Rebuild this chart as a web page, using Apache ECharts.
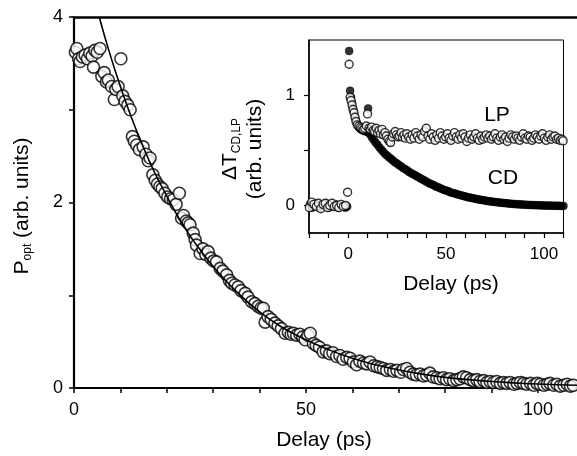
<!DOCTYPE html>
<html><head><meta charset="utf-8">
<script src="https://cdn.jsdelivr.net/npm/echarts@6/dist/echarts.min.js"></script>
<style>html,body{margin:0;padding:0;background:#fff}#c{width:577px;height:456px}</style>
</head><body><div id="c"></div>
<script>
// ---- main panel data (P_opt vs delay) ----
const mainX = [0.3,0.6,1.0,1.3,1.8,2.4,2.9,3.4,3.9,4.2,4.5,5.0,5.6,6.0,6.5,7.0,7.4,8.1,8.7,9.0,9.5,10.1,10.5,11.0,11.6,12.1,12.6,13.0,13.5,14.1,14.9,15.5,16.0,16.4,17.0,17.5,18.0,18.5,19.0,19.6,20.2,20.8,21.4,22.0,22.7,23.2,23.6,24.2,24.6,25.0,25.7,26.1,26.4,27.2,27.8,28.4,28.9,29.5,30.1,30.7,31.5,32.1,32.9,33.5,34.0,34.7,35.4,36.0,36.9,37.5,38.3,39.0,39.7,40.3,40.8,41.2,41.8,42.5,43.3,44.0,44.7,45.5,46.2,46.8,47.3,48.0,48.7,49.3,49.8,50.4,50.9,51.6,52.2,52.9,53.7,54.4,55.1,55.8,56.6,57.3,58.0,58.8,59.5,60.2,60.9,61.6,62.4,63.1,63.8,64.6,65.3,66.0,66.7,67.4,68.2,68.9,69.6,70.4,71.0,71.7,72.4,73.1,73.8,74.6,75.3,76.0,76.7,77.4,78.2,78.9,79.6,80.3,81.0,81.8,82.5,83.2,83.9,84.6,85.4,86.1,86.8,87.5,88.3,89.0,89.7,90.4,91.1,91.9,92.6,93.3,94.0,94.8,95.5,96.2,96.9,97.6,98.4,99.1,99.8,100.5,101.3,102.0,102.6,103.4,104.1,104.8,105.6,106.3,107.0,107.6];
const mainY = [3.62,3.66,3.55,3.52,3.57,3.59,3.55,3.61,3.58,3.46,3.64,3.62,3.66,3.36,3.40,3.30,3.32,3.25,3.11,3.22,3.25,3.55,3.15,3.09,3.05,3.00,2.71,2.66,2.62,2.57,2.60,2.52,2.45,2.48,2.30,2.24,2.20,2.17,2.15,2.10,2.06,2.04,2.03,1.98,2.10,1.83,1.86,1.80,1.78,1.76,1.67,1.60,1.54,1.45,1.50,1.44,1.47,1.40,1.37,1.36,1.29,1.26,1.22,1.16,1.13,1.11,1.09,1.05,1.02,0.98,0.93,0.91,0.88,0.86,0.86,0.71,0.77,0.74,0.70,0.67,0.64,0.59,0.60,0.58,0.59,0.57,0.58,0.55,0.52,0.57,0.59,0.48,0.46,0.44,0.39,0.40,0.37,0.38,0.34,0.35,0.31,0.33,0.32,0.28,0.25,0.29,0.27,0.26,0.28,0.24,0.23,0.22,0.21,0.19,0.20,0.18,0.19,0.17,0.20,0.21,0.17,0.15,0.14,0.15,0.13,0.14,0.16,0.12,0.11,0.10,0.11,0.09,0.10,0.08,0.09,0.10,0.12,0.11,0.09,0.08,0.09,0.07,0.08,0.06,0.07,0.06,0.07,0.05,0.06,0.05,0.06,0.04,0.05,0.06,0.05,0.04,0.05,0.03,0.05,0.04,0.03,0.04,0.05,0.03,0.04,0.02,0.03,0.04,0.02,0.03];
const fitX = [5.45,7.5,10,12.5,15,17.5,20,22.5,25,27.5,30,35,40,45,50,55,60,65,70,75,80,85,90,95,100,108.4];
const fitY = [4.0,3.64,3.25,2.90,2.59,2.31,2.07,1.84,1.64,1.47,1.31,1.04,0.82,0.65,0.52,0.41,0.32,0.25,0.195,0.15,0.115,0.09,0.07,0.055,0.043,0.03];
const mainXTicks = [0,10,20,30,40,50,60,70,80,90,100];
const mainXLabels = [0,50,100];
const mainYTicks = [0,1,2,3,4];
const mainYLabels = [0,2,4];

// ---- inset data (ΔT vs delay) ----
const lpX = [-19.8,-18.6,-17.5,-16.3,-15.2,-14.0,-12.8,-11.7,-10.5,-9.4,-8.2,-7.1,-5.9,-4.8,-3.6,-2.5,-1.3,-0.3,0.5,1.0,1.5,2.0,2.5,3.0,3.5,4.0,4.7,5.5,6.3,7.0,7.8,8.5,9.3,9.9,10.6,11.3,12.0,12.8,13.5,14.3,15.0,15.8,16.5,17.3,18.0,18.8,19.5,20.3,21.0,21.7,22.5,23.2,24.0,24.7,25.5,26.2,27.0,27.7,28.5,29.2,30.0,30.9,31.8,32.7,33.6,34.5,35.4,36.3,37.2,38.1,39.0,39.9,40.8,41.7,42.6,43.5,44.4,45.3,46.2,47.1,48.0,48.9,49.8,50.7,51.6,52.5,53.4,54.3,55.2,56.1,57.0,57.9,58.8,59.7,60.6,61.5,62.4,63.3,64.2,65.1,66.0,66.9,67.8,68.7,69.6,70.5,71.4,72.3,73.2,74.1,75.0,75.9,76.8,77.7,78.6,79.5,80.4,81.3,82.2,83.1,84.0,84.9,85.8,86.7,87.6,88.5,89.4,90.3,91.2,92.1,93.0,93.9,94.8,95.7,96.6,97.5,98.4,99.3,100.2,101.1,102.0,102.9,103.8,104.7,105.6,106.5,107.4,108.3,109.2,109.8];
const lpY = [-0.02,0.03,0.01,-0.01,0.02,-0.03,0.01,0.02,-0.02,0.0,0.02,-0.01,0.0,-0.02,0.01,-0.01,0.0,0.12,1.28,0.98,0.95,0.91,0.87,0.84,0.80,0.76,0.73,0.72,0.71,0.70,0.69,0.70,0.72,0.83,0.70,0.69,0.71,0.68,0.67,0.70,0.66,0.68,0.65,0.69,0.64,0.66,0.63,0.60,0.58,0.57,0.62,0.65,0.67,0.64,0.62,0.63,0.66,0.62,0.64,0.61,0.65,0.62,0.60,0.64,0.61,0.66,0.63,0.60,0.64,0.62,0.67,0.70,0.63,0.60,0.65,0.62,0.59,0.64,0.61,0.66,0.63,0.60,0.62,0.65,0.61,0.59,0.63,0.66,0.62,0.60,0.64,0.61,0.65,0.62,0.58,0.61,0.64,0.60,0.62,0.65,0.61,0.59,0.63,0.60,0.62,0.64,0.61,0.63,0.60,0.62,0.65,0.61,0.59,0.62,0.64,0.60,0.62,0.58,0.61,0.64,0.62,0.60,0.63,0.61,0.59,0.62,0.65,0.61,0.60,0.63,0.62,0.59,0.61,0.64,0.62,0.60,0.63,0.65,0.61,0.59,0.62,0.64,0.60,0.62,0.63,0.60,0.61,0.59,0.60,0.585];
const cdX = [-19.5,-18.3,-17.1,-15.9,-14.7,-13.5,-12.3,-11.1,-9.9,-8.7,-7.5,-6.3,-5.1,-3.9,-2.7,-1.5,-0.5,0.5,1.0,1.5,2.0,2.5,3.0,3.5,4.0,4.5,5.0,5.5,6.0,6.5,7.0,7.5,8.0,8.5,9.0,9.5,10.2,10.7,11,12,13,14,15,16,17,18,19,20,21,22,23,24,25,26,27,28,29,30,31,32,33,34,35,36,37,38,39,40,41,42,43,44,45,46,47,48,49,50,51,52,53,54,55,56,57,58,59,60,61,62,63,64,65,66,67,68,69,70,71,72,73,74,75,76,77,78,79,80,81,82,83,84,85,86,87,88,89,90,91,92,93,94,95,96,97,98,99,100,101,102,103,104,105,106,107,108,109,110];
const cdY = [0.01,-0.02,0.02,0.0,-0.02,0.01,-0.01,0.02,-0.02,0.0,-0.01,0.01,-0.02,0.0,-0.01,-0.02,-0.01,1.40,1.04,0.98,0.93,0.88,0.84,0.80,0.77,0.74,0.72,0.71,0.70,0.69,0.69,0.68,0.68,0.68,0.67,0.67,0.88,0.66,0.65,0.62,0.595,0.57,0.55,0.525,0.505,0.485,0.465,0.45,0.435,0.42,0.405,0.39,0.38,0.365,0.355,0.34,0.33,0.32,0.305,0.295,0.285,0.275,0.265,0.255,0.245,0.235,0.225,0.215,0.205,0.195,0.19,0.18,0.17,0.165,0.155,0.15,0.14,0.135,0.13,0.12,0.115,0.11,0.105,0.10,0.095,0.09,0.085,0.08,0.075,0.072,0.068,0.064,0.06,0.056,0.053,0.05,0.047,0.044,0.041,0.038,0.036,0.033,0.031,0.029,0.027,0.025,0.023,0.021,0.019,0.017,0.016,0.014,0.013,0.011,0.010,0.009,0.008,0.007,0.006,0.005,0.004,0.003,0.003,0.002,0.001,0.001,0.0,0.0,-0.001,-0.002,0.0,-0.002,-0.003,-0.002,-0.004,-0.003,-0.005,-0.005];
const insetXTicks = [-20,-10,0,10,20,30,40,50,60,70,80,90,100,110];
const insetXLabels = [0,50,100];
const insetYTicks = [0,0.5,1];
const insetYLabels = [0,1];

const zip = (xs, ys) => xs.map((x, i) => [x, ys[i]]);
const FONT = "'Liberation Sans', Arial, Helvetica, sans-serif";

const chart = echarts.init(document.getElementById('c'), null, {renderer: 'canvas'});
const axisCommon = (w) => ({
  axisLine: {show: true, onZero: false, lineStyle: {color: '#000', width: w}},
  splitLine: {show: false},
});
chart.setOption({
  animation: false,
  backgroundColor: '#fff',
  grid: [
    {left: 74, top: 17, right: 0, bottom: 68},
    {left: 309, top: 40, right: 13.5, bottom: 223, show: true, backgroundColor: '#fff', borderColor: '#000', borderWidth: 1, z: 10}
  ],
  xAxis: [
    Object.assign({type: 'value', gridIndex: 0, min: 0, max: 108.4,
      axisTick: {show: true, length: 5, lineStyle: {color: '#000', width: 1.5}, customValues: mainXTicks},
      axisLabel: {customValues: mainXLabels, color: '#000', fontSize: 18, fontFamily: FONT, margin: 13}
    }, axisCommon(2.2)),
    Object.assign({type: 'value', gridIndex: 0, min: 0, max: 108.4, position: 'top',
      axisTick: {show: false}, axisLabel: {show: false}}, axisCommon(2.5)),
    Object.assign({type: 'value', gridIndex: 1, min: -20, max: 110, z: 21,
      axisTick: {show: true, length: 5, lineStyle: {color: '#000', width: 1.2}, customValues: insetXTicks},
      axisLabel: {customValues: insetXLabels, color: '#000', fontSize: 17, fontFamily: FONT, margin: 13}
    }, axisCommon(1.6))
  ],
  yAxis: [
    Object.assign({type: 'value', gridIndex: 0, min: 0, max: 4,
      axisTick: {show: true, length: 5, lineStyle: {color: '#000', width: 1.5}, customValues: mainYTicks},
      axisLabel: {customValues: mainYLabels, color: '#000', fontSize: 18, fontFamily: FONT, margin: 11}
    }, axisCommon(2.2)),
    Object.assign({type: 'value', gridIndex: 1, min: -0.25, max: 1.5, z: 21,
      axisTick: {show: true, length: 5, lineStyle: {color: '#000', width: 1.2}, customValues: insetYTicks},
      axisLabel: {customValues: insetYLabels, color: '#000', fontSize: 17, fontFamily: FONT, margin: 14}
    }, axisCommon(1.6))
  ],
  series: [
    {type: 'scatter', xAxisIndex: 0, yAxisIndex: 0, data: zip(mainX, mainY), symbol: 'circle', symbolSize: 12,
      itemStyle: {color: '#fff', borderColor: '#000', borderWidth: 1.6}, z: 2},
    {type: 'line', xAxisIndex: 0, yAxisIndex: 0, data: zip(fitX, fitY), smooth: true, showSymbol: false, symbol: 'none',
      lineStyle: {color: '#000', width: 1.6}, z: 3},
    {type: 'scatter', xAxisIndex: 2, yAxisIndex: 1, data: zip(cdX, cdY), symbol: 'circle', symbolSize: 8,
      itemStyle: {color: '#000', borderColor: '#000', borderWidth: 0.5}, z: 20},
    {type: 'scatter', xAxisIndex: 2, yAxisIndex: 1, data: zip(lpX, lpY), symbol: 'circle', symbolSize: 8,
      itemStyle: {color: '#fff', borderColor: '#000', borderWidth: 1.4}, z: 21}
  ],
  graphic: [
    {type: 'text', x: 324, y: 440, z: 50, style: {text: 'Delay (ps)', fontSize: 21, fontFamily: FONT, fill: '#000', align: 'center', verticalAlign: 'middle'}},
    {type: 'text', x: 22, y: 206, rotation: Math.PI / 2, z: 50, style: {
      text: '{a|P}{s|opt}{a| (arb. units)}', fontFamily: FONT, fill: '#000', align: 'center', verticalAlign: 'middle',
      rich: {a: {fontSize: 21, fontFamily: FONT, lineHeight: 26}, s: {fontSize: 12, fontFamily: FONT, padding: [12, 0, 0, 0]}}}},
    {type: 'text', x: 451, y: 284, z: 50, style: {text: 'Delay (ps)', fontSize: 21, fontFamily: FONT, fill: '#000', align: 'center', verticalAlign: 'middle'}},
    {type: 'text', x: 243, y: 149, rotation: Math.PI / 2, z: 50, style: {
      text: '{a|ΔT}{s|CD,LP}\n{a|(arb. units)}', fontFamily: FONT, fill: '#000', align: 'center', verticalAlign: 'middle',
      rich: {a: {fontSize: 21, fontFamily: FONT, lineHeight: 25}, s: {fontSize: 12, fontFamily: FONT, padding: [12, 0, 0, 0]}}}},
    {type: 'text', x: 497, y: 115, z: 50, style: {text: 'LP', fontSize: 21, fontFamily: FONT, fill: '#000', align: 'center', verticalAlign: 'middle'}},
    {type: 'text', x: 503, y: 178, z: 50, style: {text: 'CD', fontSize: 21, fontFamily: FONT, fill: '#000', align: 'center', verticalAlign: 'middle'}}
  ]
});
</script></body></html>
